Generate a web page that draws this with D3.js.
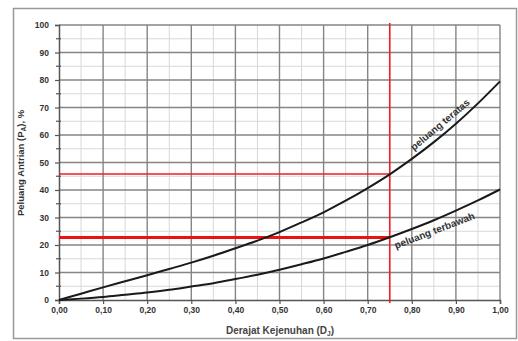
<!DOCTYPE html>
<html>
<head>
<meta charset="utf-8">
<script src="https://cdn.jsdelivr.net/npm/d3@7"></script>
<style>
  body { margin: 0; background: #fff; }
  text { font-family: "Liberation Sans", Arial, sans-serif; }
</style>
</head>
<body>
<div id="chart"></div>
<script>
// degree of saturation (x) and queue probability % (y)
var dj = [0, 0.05, 0.10, 0.15, 0.20, 0.25, 0.30, 0.35, 0.40, 0.45, 0.50,
          0.55, 0.60, 0.65, 0.70, 0.75, 0.80, 0.85, 0.90, 0.95, 1.00];
var upper = [0, 2.3, 4.6, 6.8, 9.0, 11.3, 13.6, 16.1, 18.8, 21.6, 24.7,
             28.2, 31.9, 36.1, 40.7, 45.7, 51.3, 57.4, 64.1, 71.5, 79.5];
var lower = [0, 0.5, 1.1, 1.9, 2.7, 3.7, 4.9, 6.1, 7.6, 9.2, 11.0,
             13.0, 15.1, 17.5, 20.0, 22.8, 25.8, 29.0, 32.5, 36.2, 40.2];
var xTicks = [0, 0.1, 0.2, 0.3, 0.4, 0.5, 0.6, 0.7, 0.8, 0.9, 1.0];
var yTicks = [0, 10, 20, 30, 40, 50, 60, 70, 80, 90, 100];
// red reading lines
var readX = 0.75;
var readUpper = 45.8;
var readLower = 22.7;

var width = 518, height = 341;
var svg = d3.select("#chart").append("svg")
    .attr("width", width).attr("height", height);

svg.append("rect")
    .attr("x", 13.5).attr("y", 8.5).attr("width", 503).attr("height", 330)
    .attr("fill", "#fff").attr("stroke", "#999").attr("stroke-width", 1.5);

var x = d3.scaleLinear().domain([0, 1]).range([59, 500]);
var y = d3.scaleLinear().domain([0, 100]).range([300, 25]);

var g = svg.append("g");

// minor grid
var minorX = d3.range(0.05, 1, 0.1);
var minorY = d3.range(5, 100, 10);
g.selectAll(".mx").data(minorX).enter().append("line")
    .attr("x1", d => x(d)).attr("x2", d => x(d))
    .attr("y1", y(0)).attr("y2", y(100))
    .attr("stroke", "#d8d8d8").attr("stroke-width", 1);
g.selectAll(".my").data(minorY).enter().append("line")
    .attr("x1", x(0)).attr("x2", x(1))
    .attr("y1", d => y(d)).attr("y2", d => y(d))
    .attr("stroke", "#d8d8d8").attr("stroke-width", 1);

// major grid
g.selectAll(".gx").data(xTicks.slice(1)).enter().append("line")
    .attr("x1", d => x(d)).attr("x2", d => x(d))
    .attr("y1", y(0)).attr("y2", y(100))
    .attr("stroke", "#858585").attr("stroke-width", 1.4);
g.selectAll(".gy").data(yTicks.slice(1)).enter().append("line")
    .attr("x1", x(0)).attr("x2", x(1))
    .attr("y1", d => y(d)).attr("y2", d => y(d))
    .attr("stroke", "#858585").attr("stroke-width", 1.4);

// axes
var fmt = d => d.toFixed(2).replace(".", ",");
var xAxis = g.append("g").attr("transform", "translate(0," + y(0) + ")")
    .call(d3.axisBottom(x).tickValues(xTicks).tickFormat(fmt).tickSize(4).tickPadding(3));
var yAxis = g.append("g").attr("transform", "translate(" + x(0) + ",0)")
    .call(d3.axisLeft(y).tickValues(yTicks).tickSize(4).tickPadding(6));
[xAxis, yAxis].forEach(a => {
  a.select(".domain").attr("stroke", "#555").attr("stroke-width", 1.5);
  a.selectAll(".tick line").attr("stroke", "#555").attr("stroke-width", 1.2);
  a.selectAll("text").attr("fill", "#333").attr("font-size", 8.5)
      .attr("font-weight", "bold");
});
// minor ticks on y axis
g.selectAll(".mt").data(minorY).enter().append("line")
    .attr("x1", x(0) - 3).attr("x2", x(0) + 2)
    .attr("y1", d => y(d)).attr("y2", d => y(d))
    .attr("stroke", "#555").attr("stroke-width", 1.2);

// red reading lines
g.append("line")
    .attr("x1", x(readX)).attr("x2", x(readX))
    .attr("y1", y(100) - 2).attr("y2", y(0) + 3)
    .attr("stroke", "#ee1c24").attr("stroke-width", 1.6);
g.append("line")
    .attr("x1", x(0)).attr("x2", x(readX))
    .attr("y1", y(readUpper)).attr("y2", y(readUpper))
    .attr("stroke", "#ee1c24").attr("stroke-width", 1.6);
g.append("line")
    .attr("x1", x(0)).attr("x2", x(readX))
    .attr("y1", y(readLower)).attr("y2", y(readLower))
    .attr("stroke", "#ee1111").attr("stroke-width", 3);

// curves
var line = d3.line().x((d, i) => x(dj[i])).y(d => y(d)).curve(d3.curveMonotoneX);
[upper, lower].forEach(s => {
  g.append("path").attr("d", line(s))
      .attr("fill", "none").attr("stroke", "#1a1a1a").attr("stroke-width", 2);
});

// curve labels
svg.append("text")
    .attr("transform", "translate(414,151) rotate(-40)")
    .attr("font-size", 10).attr("font-weight", "bold").attr("fill", "#333")
    .text("peluang teratas");
svg.append("text")
    .attr("transform", "translate(396,249) rotate(-21)")
    .attr("font-size", 10).attr("font-weight", "bold").attr("fill", "#333")
    .text("peluang terbawah");

// axis titles
var yt = svg.append("text")
    .attr("transform", "translate(24,163) rotate(-90)")
    .attr("text-anchor", "middle")
    .attr("font-size", 9.5).attr("font-weight", "bold").attr("fill", "#333");
yt.append("tspan").text("Peluang Antrian (P");
yt.append("tspan").attr("font-size", 6.5).attr("dy", 2).text("A");
yt.append("tspan").attr("dy", -2).text("), %");

var xt = svg.append("text")
    .attr("x", 280).attr("y", 334)
    .attr("text-anchor", "middle")
    .attr("font-size", 10).attr("font-weight", "bold").attr("fill", "#444");
xt.append("tspan").text("Derajat Kejenuhan (D");
xt.append("tspan").attr("font-size", 6.5).attr("dy", 2).text("J");
xt.append("tspan").attr("dy", -2).text(")");
</script>
</body>
</html>
